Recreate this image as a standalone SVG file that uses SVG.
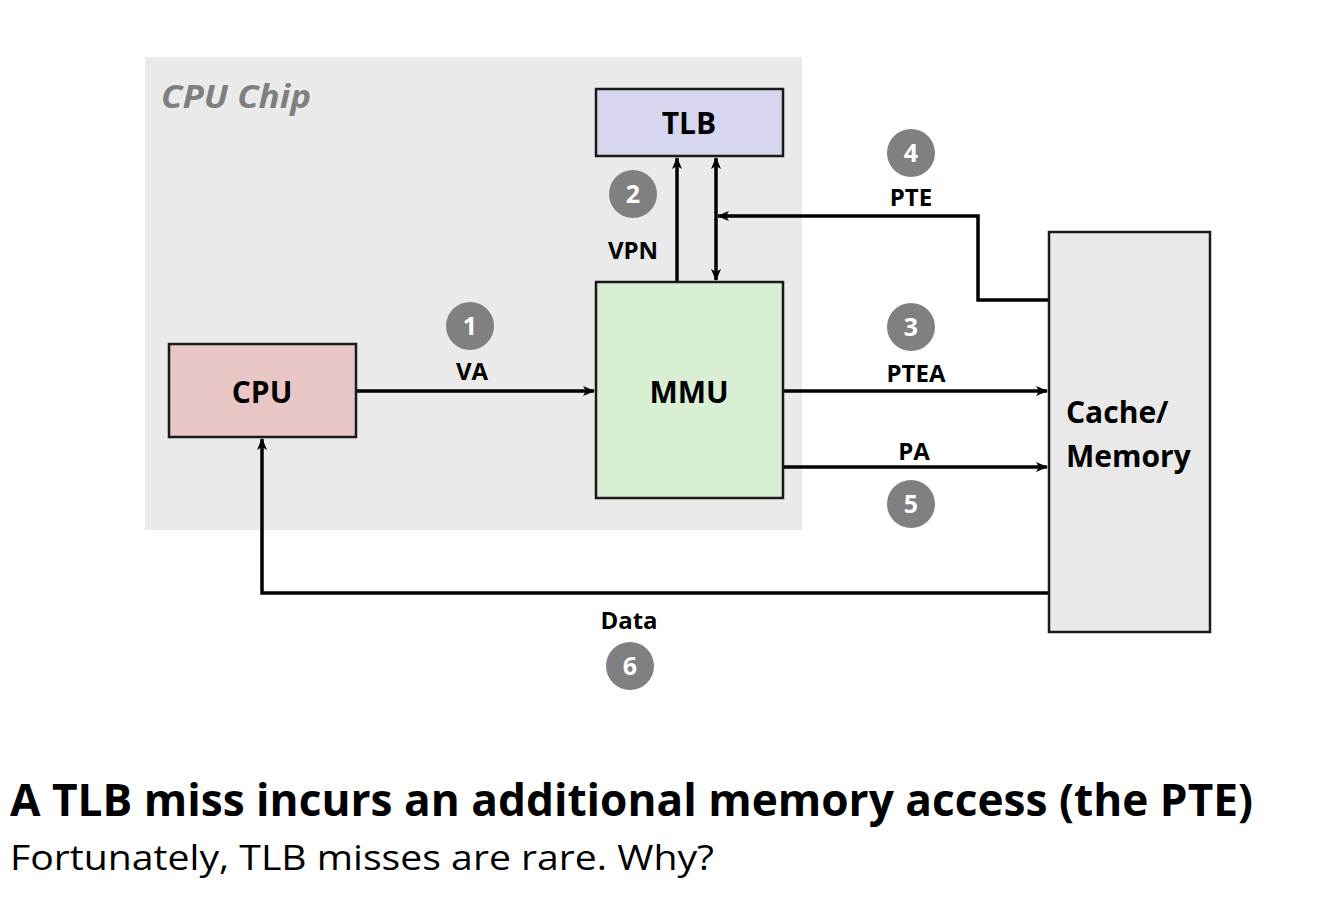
<svg xmlns="http://www.w3.org/2000/svg" width="1338" height="908" viewBox="0 0 1338 908">
<defs>
<marker id="ah" viewBox="0 0 12 10" refX="11" refY="5" markerWidth="12" markerHeight="10" markerUnits="userSpaceOnUse" orient="auto-start-reverse">
<path d="M0,0 L12,5 L0,10 L3,5 Z" fill="#000"/>
</marker>
<style>
.box{stroke:#1a1a1a;stroke-width:2.5}
.lbl{font-family:"Open Sans","Liberation Sans",sans-serif;font-weight:bold;fill:#000;text-anchor:middle}
.node{font-size:30px}
.edge{font-size:24px}
.conn{fill:none;stroke:#000;stroke-width:3.5}
.num circle{fill:#808080}
.num text{font-family:"Open Sans","Liberation Sans",sans-serif;font-weight:bold;font-size:25px;fill:#fff;text-anchor:middle}
</style>
</defs>
<rect width="1338" height="908" fill="#fff"/>
<g id="chip">
<rect x="145" y="57" width="657" height="473" fill="#EAEAEA"/>
<text x="161" y="108" font-family="Open Sans, Liberation Sans, sans-serif" font-weight="bold" font-style="italic" font-size="33" fill="#7f7f7f" textLength="150" lengthAdjust="spacingAndGlyphs">CPU Chip</text>
</g>
<g id="connectors">
<line class="conn" x1="356" y1="391" x2="594" y2="391" marker-end="url(#ah)"/>
<line class="conn" x1="677" y1="282" x2="677" y2="158" marker-end="url(#ah)"/>
<line class="conn" x1="716" y1="158" x2="716" y2="280" marker-start="url(#ah)" marker-end="url(#ah)"/>
<polyline class="conn" points="1049,300 978,300 978,216 718,216" marker-end="url(#ah)"/>
<line class="conn" x1="783" y1="391" x2="1047" y2="391" marker-end="url(#ah)"/>
<line class="conn" x1="783" y1="467" x2="1047" y2="467" marker-end="url(#ah)"/>
<polyline class="conn" points="1049,593 262,593 262,439" marker-end="url(#ah)"/>
<text class="lbl edge" x="472" y="380">VA</text>
<text class="lbl edge" x="633" y="259">VPN</text>
<text class="lbl edge" x="911" y="206">PTE</text>
<text class="lbl edge" x="916" y="382">PTEA</text>
<text class="lbl edge" x="914" y="460">PA</text>
<text class="lbl edge" x="629" y="629">Data</text>
</g>
<g id="tlb">
<rect class="box" x="596" y="89" width="187" height="67" fill="#D7D6F0"/>
<text class="lbl node" x="689" y="134">TLB</text>
</g>
<g id="mmu">
<rect class="box" x="596" y="282" width="187" height="216" fill="#D9EFD4"/>
<text class="lbl node" x="689" y="403">MMU</text>
</g>
<g id="cpu">
<rect class="box" x="169" y="344" width="187" height="93" fill="#E9C6C6"/>
<text class="lbl node" x="262" y="403">CPU</text>
</g>
<g id="memory">
<rect class="box" x="1049" y="232" width="161" height="400" fill="#E9E9E9"/>
<text class="lbl node" x="1066" y="423" style="text-anchor:start">Cache/</text>
<text class="lbl node" x="1066" y="467" style="text-anchor:start">Memory</text>
</g>
<g id="n1" class="num"><circle cx="470" cy="326" r="24"/><text x="470" y="335">1</text></g>
<g id="n2" class="num"><circle cx="633" cy="194" r="24"/><text x="633" y="203">2</text></g>
<g id="n3" class="num"><circle cx="911" cy="327" r="24"/><text x="911" y="336">3</text></g>
<g id="n4" class="num"><circle cx="911" cy="153" r="24"/><text x="911" y="162">4</text></g>
<g id="n5" class="num"><circle cx="911" cy="504" r="24"/><text x="911" y="513">5</text></g>
<g id="n6" class="num"><circle cx="630" cy="666" r="24"/><text x="630" y="675">6</text></g>
<g id="caption">
<text x="10" y="816" font-family="Open Sans, Liberation Sans, sans-serif" font-weight="bold" font-size="45" fill="#000" textLength="1243" lengthAdjust="spacingAndGlyphs">A TLB miss incurs an additional memory access (the PTE)</text>
<text x="10" y="870" font-family="Open Sans, Liberation Sans, sans-serif" font-size="34" fill="#000" textLength="704" lengthAdjust="spacingAndGlyphs">Fortunately, TLB misses are rare. Why?</text>
</g>
</svg>
